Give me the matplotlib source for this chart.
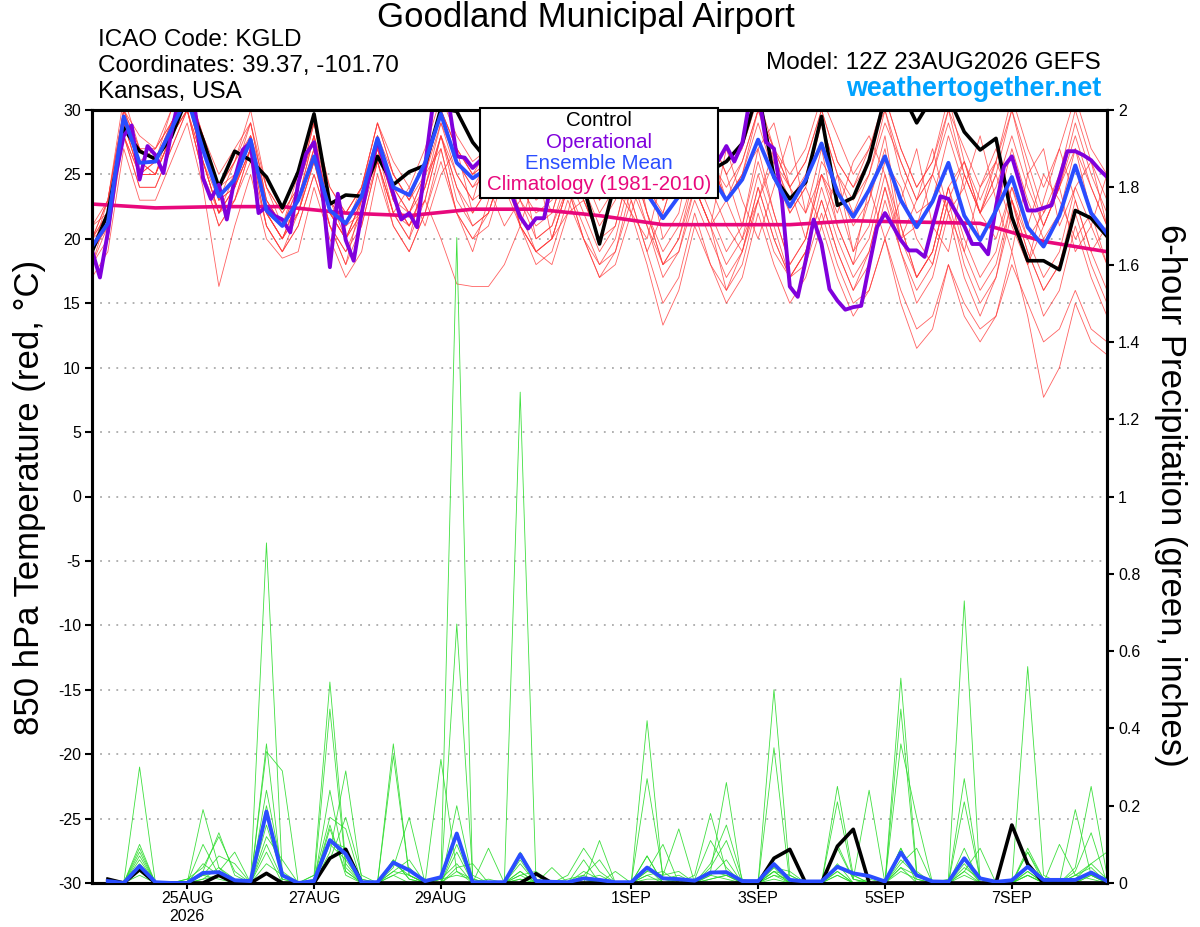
import matplotlib
matplotlib.use("Agg")
import matplotlib.pyplot as plt
from matplotlib.patches import Rectangle
from matplotlib.ticker import FormatStrFormatter
import numpy as np

plt.rcParams["font.family"] = ["Liberation Sans", "DejaVu Sans"]
plt.rcParams["axes.unicode_minus"] = False

# forecast hours from 12Z 23AUG2026
HOURS_T = np.arange(0, 385, 6)
HOURS_P = np.arange(6, 385, 6)
HOURS_OP = np.arange(0, 385, 3)
HOURS_CLIM = np.arange(0, 385, 24)

DATE_HOURS = [36, 84, 132, 204, 252, 300, 348]
DATE_LABELS = ["25AUG\n2026", "27AUG", "29AUG", "1SEP", "3SEP", "5SEP", "7SEP"]

# ensemble members, 850 hPa temperature (C)
temp_members = [
    [20, 23,30,27,27, 30,32,28,25, 27,29,24,22, 24,28,24,22, 24,29,26,24, 27,31,28,26, 27,30,27,25, 26,29,27,24,
     26,30,27,25, 27,31,28,25, 27,31,27,24, 26,30,26,24, 27,31,27,24, 26,30,27,24, 26,31,27,24, 27,31,27,25],
    [18, 20,28,24,24, 27,30,25,21, 23,26,21,19, 21,25,21,19, 21,26,22,20, 23,28,23,21, 22,26,22,19, 20,24,21,18,
     20,25,21,17, 19,24,21,16, 19,24,20,17, 19,23,19,16, 18,23,19,15, 17,22,17,14, 17,22,18,14, 16,21,17,14],
    [19, 22,29,26,25, 28,31,26,22, 25,28,22,20, 23,27,23,20, 23,27,24,22, 25,29,26,24, 25,28,24,22, 23,27,24,21,
     23,27,24,22, 26,24,28,25, 21,27,29,24, 20,25,22,26, 28,25,20,23, 27,22,24,28, 23,19,25,27, 21,24,26,21],
    [17, 19,27,23,23, 26,29,24,16.3, 21,25,20,18.5, 19,24,20,17, 19,25,21,19, 22,27,22,20, 21,25,21,19, 20,24,20,17,
     19,23,19,15, 17,22,18,15, 17,22,18,15, 17,21,17,14, 16,20,15,11.5, 13,18,14,12, 14,19,14,7.7, 10,15,12,11],
    [20, 22,29,25,25, 28,31,27,23, 24,27,22,21, 22,26,22,21, 22,27,23,21, 23,20,16.5,16.3, 16.3,18,21,19, 18,22,23,20,
     21,26,22,18, 20,25,22,19, 21,26,22,18, 20,25,21,18, 20,25,21,17, 19,24,20,17, 19,24,20,17, 19,24,21,18],
    [21, 23,30,28,27, 29,32,28,24, 26,29,23,21, 25,29,23,22, 24,28,25,23, 26,30,27,25, 26,29,25,23, 24,28,25,22,
     24,29,25,23, 25,29,26,23, 25,30,26,23, 25,29,25,22, 25,29,26,23, 25,30,25,22, 25,30,25,21, 24,29,25,22],
    [19, 21,28,25,26, 28,30,26,22, 23,27,21,19, 22,26,21,19, 22,26,22,21, 24,28,24,22, 24,27,23,21, 22,26,23,20,
     24,22,26,20, 22,28,24,21, 19,23,27,22, 24,21,25,19, 23,27,20,21, 25,22,19,24, 27,23,20,22, 24,19,21,25],
    [18, 21,29,26,25, 29,31,27,23, 25,29,23,21, 23,28,22,20, 23,28,23,22, 24,29,25,23, 24,28,23,20, 21,25,22,19,
     21,26,22,18, 20,24,21,18, 20,25,21,17, 19,24,20,17, 19,24,19,16, 18,23,18,15, 17,23,19,16, 18,23,19,16],
    [20, 22,30,27,26, 29,31,27,24, 25,28,23,21, 24,28,23,21, 24,29,25,23, 25,30,26,24, 26,29,26,24, 25,29,26,23,
     25,28,25,23, 25,29,26,23, 26,30,27,24, 26,30,26,24, 26,31,27,24, 26,31,26,23, 26,30,26,22, 25,30,26,23],
    [19, 22,29,25,25, 28,30,25,21, 23,27,22,20, 22,26,21,18, 23,26,22,24, 21,25,27,22, 24,21,23,26, 20,22,27,24,
     25,23,19,22, 26,24,21,27, 23,20,24,28, 22,25,23,19, 21,26,24,20, 18,23,26,22, 20,24,21,25, 23,20,22,18],
    [20, 23,30,26,27, 29,31,28,24, 26,28,24,22, 24,29,24,22, 24,29,25,23, 26,30,27,25, 27,30,27,25, 25,28,26,24,
     26,29,26,24, 26,29,26,24, 26,30,27,25, 27,31,28,25, 27,30,26,23, 25,29,25,22, 24,28,24,21, 24,28,24,21],
    [19, 21,28,24,24, 27,30,25,22, 24,27,22,20, 22,27,22,20, 22,27,23,21, 23,28,24,21, 22,26,21,19, 20,24,20,17,
     18,22,18,13.3, 16,21,18,16, 18,23,19,17, 19,23,19,16, 19,24,20,17, 19,24,19,16, 18,23,19,16, 18,22,18,15],
    [18, 22,29,25,26, 28,31,26,23, 24,28,22,20, 23,28,22,20, 22,27,22,20, 25,27,22,19, 23,28,26,20, 21,24,27,23,
     26,22,20,25, 28,24,21,23, 25,27,22,18, 20,26,24,21, 23,28,21,17, 19,24,26,22, 25,21,18,23, 27,23,19,21],
    [20, 21,28,25,25, 28,30,26,22, 24,27,21,19, 21,25,21,18, 21,26,21,19, 22,26,22,20, 22,26,21,18, 19,23,20,18,
     19,24,21,18, 19,23,20,17, 19,24,20,17, 18,22,18,15, 16,20,16,13, 14,18,15,13, 14,18,15,12, 13,16,13,12],
    [19, 23,31,27,26, 30,32,27,23, 26,30,24,21, 24,29,23,21, 23,28,24,22, 25,30,27,25, 26,30,26,24, 25,30,27,24,
     26,30,26,23, 24,29,26,23, 25,29,25,22, 24,29,25,23, 25,30,25,22, 23,28,24,20, 22,27,23,20, 22,27,24,21],
    [21, 22,29,26,26, 29,31,26,22, 24,28,22,20, 23,27,22,20, 23,28,23,21, 24,28,25,23, 27,24,21,25, 22,26,23,20,
     24,28,22,19, 21,25,27,23, 20,23,26,24, 22,27,21,18, 24,20,23,27, 21,19,25,22, 26,23,18,21, 24,27,22,20],
]

control_temp = [19.0, 22.0, 28.6, 26.8, 26.2, 27.9, 31.0, 27.7, 24.0, 26.8, 26.1, 24.8, 22.4, 25.2, 29.7, 22.7,
                23.4, 23.3, 26.4, 24.2, 25.2, 25.7, 30.1, 29.9, 27.5, 26.0, 25.0, 24.5, 24.0, 25.5, 24.5, 24.0,
                19.6, 24.5, 25.0, 24.0, 24.5, 26.0, 25.0, 25.3, 26.0, 27.4, 31.5, 24.8, 23.1, 24.4, 29.5, 22.6,
                23.2, 26.1, 31.0, 31.5, 29.0, 31.0, 31.0, 28.3, 26.9, 27.8, 21.7, 18.3, 18.3, 17.6, 22.2, 21.6,
                20.2]
mean_temp = [19.4, 21.2, 29.5, 25.9, 26.0, 28.5, 31.0, 26.9, 23.3, 24.6, 27.7, 22.2, 21.0, 23.0, 26.4, 22.2,
             21.2, 23.3, 27.8, 24.0, 23.4, 25.9, 29.7, 25.9, 24.7, 25.5, 24.8, 26.0, 25.2, 24.3, 24.0, 25.0,
             23.8, 24.6, 25.5, 23.5, 21.6, 23.3, 24.0, 25.0, 23.0, 24.6, 27.7, 24.8, 22.5, 24.6, 27.4, 23.6,
             21.7, 23.8, 26.4, 23.0, 20.9, 22.9, 25.9, 21.8, 19.9, 22.2, 24.8, 20.9, 19.4, 21.8, 25.7, 22.0,
             20.4]
oper_temp = [19.1, 17.0, 20.5, 25.0, 28.0, 28.8, 24.6, 27.2, 26.5, 25.1,
             28.2, 31.0, 31.0, 30.0, 24.7, 23.1, 24.2, 21.5, 24.7, 26.9,
             27.5, 22.0, 22.5, 21.8, 21.5, 20.5, 24.3, 26.6, 27.5, 24.0,
             17.8, 23.5, 19.9, 18.3, 22.0, 25.0, 27.7, 25.5, 23.5, 21.5,
             22.0, 20.9, 25.6, 30.5, 31.0, 30.5, 26.4, 26.3, 25.5, 26.1,
             25.0, 24.5, 24.0, 23.3, 21.7, 20.8, 21.6, 21.6, 24.5, 26.0,
             27.0, 26.0, 25.0, 26.0, 27.0, 28.0, 27.0, 26.0, 25.0, 26.0,
             27.0, 28.0, 27.0, 26.0, 25.0, 26.0, 27.0, 26.0, 25.5, 26.1,
             27.2, 26.0, 27.4, 31.0, 31.5, 27.5, 27.0, 23.0, 16.3, 15.5,
             18.3, 21.5, 19.6, 16.1, 15.2, 14.5, 14.7, 14.8, 17.9, 20.9,
             22.0, 21.0, 19.9, 19.1, 19.1, 18.6, 21.0, 23.3, 23.1, 22.0,
             21.0, 19.6, 19.6, 18.8, 22.5, 25.6, 26.4, 24.3, 22.2, 22.2,
             22.4, 22.6, 24.7, 26.8, 26.8, 26.5, 26.1, 25.4, 24.8]
clim_temp = [22.7, 22.4, 22.5, 22.5, 22.0, 21.8, 22.3, 22.3, 21.8, 21.1, 21.1, 21.1, 21.4, 21.3, 21.2, 19.8, 19.0]

# ensemble members, 6-hour precipitation (inches)
precip_members = [
    [0.01,0,0.30,0,0,0,0.02,0.01, 0,0,0.88,0.02,0,0,0.14,0.03, 0,0,0.02,0,0,0.01,1.67,0, 0,0,0.01,0,0,0,0.02,0,
     0,0,0.07,0,0,0,0.01,0.02, 0,0,0.35,0,0,0,0.02,0, 0,0,0.09,0,0,0.01,0.73,0, 0,0,0.02,0,0,0.03,0.13,0],
    [0,0,0.10,0,0,0,0.19,0.04, 0,0,0.36,0,0,0.02,0.52,0.05, 0,0,0.06,0.01,0,0,0.67,0.02, 0,0,0.05,0,0,0,0,0.01,
     0,0,0.42,0.01,0,0,0.03,0.26, 0,0,0.02,0,0,0,0.25,0.02, 0,0,0.53,0.03,0,0,0.02,0, 0,0,0.08,0,0,0,0.02,0],
    [0,0,0.09,0,0,0,0.03,0.13, 0.02,0,0.34,0.29,0,0,0.45,0.04, 0,0,0.36,0.02,0,0,0.20,0.01, 0,0,1.27,0,0,0,0,0.11,
     0,0,0.02,0,0,0.02,0.18,0.03, 0,0,0.50,0.02,0,0,0.03,0, 0,0,0.45,0.02,0,0,0.27,0.01, 0,0,0.56,0.02,0,0,0.03,0.01],
    [0,0,0.08,0,0,0.01,0.04,0.12, 0.03,0,0.24,0.03,0,0,0.08,0.29, 0.01,0,0.33,0.02,0,0.32,0.03,0, 0.09,0,0.03,0,0,0,0.01,0,
     0,0,0.27,0.02,0.14,0,0.01,0.02, 0,0,0.03,0,0,0,0.21,0.01, 0.24,0,0.04,0,0,0,0.21,0.01, 0,0,0.03,0,0,0.19,0.02,0],
    [0,0,0.07,0,0,0,0.10,0.02, 0,0,0.20,0.01,0,0,0.24,0.03, 0,0,0.04,0.17,0,0,0.10,0, 0,0,0.02,0,0,0.02,0.09,0.03,
     0,0,0.03,0.10,0,0,0.05,0.15, 0.01,0,0.04,0,0,0,0.05,0, 0,0,0.36,0.17,0,0,0.09,0, 0,0,0.02,0,0,0.04,0.25,0.02],
    [0.01,0,0.06,0,0,0.01,0.02,0.03, 0.08,0,0.15,0.02,0,0,0.06,0.17, 0.02,0,0.03,0.06,0,0,0.04,0.05, 0,0,0.08,0.01,0,0.01,0.02,0.06,
     0,0,0.04,0,0,0.01,0.11,0.04, 0,0,0.03,0.02,0,0,0.10,0.01, 0,0,0.05,0.09,0,0,0.04,0.01, 0,0,0.02,0,0.10,0.02,0.05,0.08],
    [0,0,0.05,0,0,0,0.05,0.02, 0,0,0.12,0.06,0,0.01,0.17,0.14, 0,0,0.05,0.02,0,0,0.08,0, 0.01,0,0.06,0,0.04,0,0.06,0,
     0,0,0.03,0.02,0.03,0,0.04,0.11, 0,0,0.04,0.03,0,0,0.02,0, 0,0,0.06,0.02,0,0,0.03,0.09, 0,0,0.08,0.01,0,0.02,0.04,0],
    [0,0,0.04,0,0,0,0.02,0.07, 0.05,0,0.10,0.01,0,0,0.15,0.02, 0,0,0.06,0.01,0,0.01,0.05,0, 0,0,0.02,0.03,0,0,0.01,0,
     0.03,0,0.07,0,0.01,0,0.02,0.01, 0,0,0.03,0,0,0,0.04,0.02, 0,0,0.09,0.01,0,0,0.05,0, 0,0,0.04,0,0,0.01,0.05,0.01],
    [0,0,0.03,0,0,0,0.01,0.04, 0.01,0,0.08,0,0,0,0.10,0.06, 0,0,0.02,0.04,0,0,0.03,0.01, 0,0,0.03,0,0,0,0.03,0.01,
     0,0,0.02,0.03,0,0,0.02,0.06, 0,0,0.02,0.01,0,0,0.09,0.01, 0,0,0.04,0.02,0,0,0.03,0, 0,0,0.09,0.01,0,0,0.02,0],
    [0,0,0.02,0,0,0,0.01,0.02, 0,0,0.05,0.02,0,0.02,0.11,0.09, 0.01,0,0.03,0.02,0,0.01,0.02,0.01, 0,0,0.01,0,0,0,0.01,0.02,
     0,0,0.01,0.01,0.02,0,0.03,0.02, 0,0,0.01,0,0,0,0.03,0, 0.01,0,0.03,0.01,0,0,0.06,0, 0,0,0.03,0,0,0.02,0.01,0],
]

control_precip = [0.01, 0, 0.035, 0, 0, 0, 0, 0.02, 0, 0, 0.025, 0, 0, 0, 0.064, 0.087,
                  0, 0, 0, 0, 0, 0, 0, 0, 0, 0, 0, 0.024, 0, 0, 0, 0,
                  0, 0, 0, 0, 0, 0, 0, 0, 0, 0, 0.064, 0.087, 0, 0, 0.095, 0.139,
                  0, 0, 0, 0, 0, 0, 0, 0, 0, 0.15, 0.049, 0, 0, 0, 0, 0]
mean_precip = [0.005, 0, 0.044, 0.002, 0, 0, 0.026, 0.028, 0.007, 0.005, 0.185, 0.02, 0, 0.005, 0.111, 0.075,
               0.002, 0.002, 0.053, 0.033, 0.005, 0.015, 0.128, 0.002, 0.002, 0.002, 0.074, 0.005, 0.003, 0.002, 0.012, 0.008,
               0.002, 0.002, 0.04, 0.012, 0.01, 0.006, 0.027, 0.028, 0.005, 0.005, 0.049, 0.008, 0.004, 0.004, 0.042, 0.025,
               0.018, 0.004, 0.079, 0.02, 0.004, 0.003, 0.064, 0.012, 0.003, 0.007, 0.042, 0.008, 0.008, 0.008, 0.027, 0.005]

RED = "#ff3a3a"
GREEN = "#2bdc2b"
BLUE = "#2a4dff"
PURPLE = "#8000dc"
PINK = "#e8087c"

fig = plt.figure(figsize=(12, 9.27), dpi=100)
ax = fig.add_axes([92 / 1200, 44 / 927, 1015 / 1200, 773 / 927])
ax2 = ax.twinx()

for m in temp_members:
    ax.plot(HOURS_T, m, color=RED, lw=0.6, alpha=0.8, zorder=2)
ax.plot(HOURS_CLIM, clim_temp, color=PINK, lw=2.6, zorder=3)
ax.plot(HOURS_T, control_temp, color="black", lw=2.6, zorder=4)
ax.plot(HOURS_OP, oper_temp, color=PURPLE, lw=2.8, zorder=5)
ax.plot(HOURS_T, mean_temp, color=BLUE, lw=2.8, zorder=6)

for m in precip_members:
    ax2.plot(HOURS_P, m, color=GREEN, lw=0.6, alpha=0.9, zorder=2)
ax2.plot(HOURS_P, control_precip, color="black", lw=2.6, zorder=4)
ax2.plot(HOURS_P, mean_precip, color=BLUE, lw=2.8, zorder=5)

ax.set_xlim(0, 384)
ax.set_ylim(-30, 30)
ax2.set_ylim(0, 2)
ax.set_yticks(np.arange(-30, 31, 5))
ax2.set_yticks(np.arange(0, 2.01, 0.2))
ax2.yaxis.set_major_formatter(FormatStrFormatter("%g"))
ax.set_xticks(DATE_HOURS)
ax.set_xticklabels(DATE_LABELS)
ax.grid(axis="y", color="#aaaaaa", linestyle=(0, (1, 3.5)), lw=1.3)
ax.set_axisbelow(True)

for a in (ax, ax2):
    for s in a.spines.values():
        s.set_linewidth(2.2)
    a.tick_params(labelsize=11.5, width=1.5, length=5, direction="out", pad=3)
ax.tick_params(axis="x", length=4, pad=2)

fig.text(30 / 1200, 1 - 497 / 927, "850 hPa Temperature (red, \u00b0C)", fontsize=25,
         rotation=90, ha="center", va="center")
fig.text(1171 / 1200, 1 - 495 / 927, "6-hour Precipitation (green, inches)", fontsize=25,
         rotation=270, ha="center", va="center")

# legend box
ax2.add_patch(Rectangle((0.382, 0.886), 0.235, 0.117, transform=ax2.transAxes, facecolor="white",
                        edgecolor="black", lw=1.5, zorder=10, clip_on=False))
for txt, col, yy in [("Control", "black", 0.986), ("Operational", PURPLE, 0.958),
                     ("Ensemble Mean", BLUE, 0.931), ("Climatology (1981-2010)", PINK, 0.903)]:
    ax2.text(0.4995, yy, txt, color=col, fontsize=14.8, ha="center", va="center",
             transform=ax2.transAxes, zorder=11)

fig.text(586 / 1200, 1 - 18 / 927, "Goodland Municipal Airport", fontsize=25, ha="center", va="center")
fig.text(98 / 1200, 1 - 40 / 927, "ICAO Code: KGLD", fontsize=17.5, ha="left", va="center")
fig.text(98 / 1200, 1 - 66 / 927, "Coordinates: 39.37, -101.70", fontsize=17.5, ha="left", va="center")
fig.text(98 / 1200, 1 - 92 / 927, "Kansas, USA", fontsize=17.5, ha="left", va="center")
fig.text(1101 / 1200, 1 - 63 / 927, "Model: 12Z 23AUG2026 GEFS", fontsize=17.5, ha="right", va="center")
fig.text(1101 / 1200, 1 - 89 / 927, "weathertogether.net", fontsize=19.4, fontweight="bold",
         color="#00a2ff", ha="right", va="center")

fig.savefig("out.png", dpi=100)
